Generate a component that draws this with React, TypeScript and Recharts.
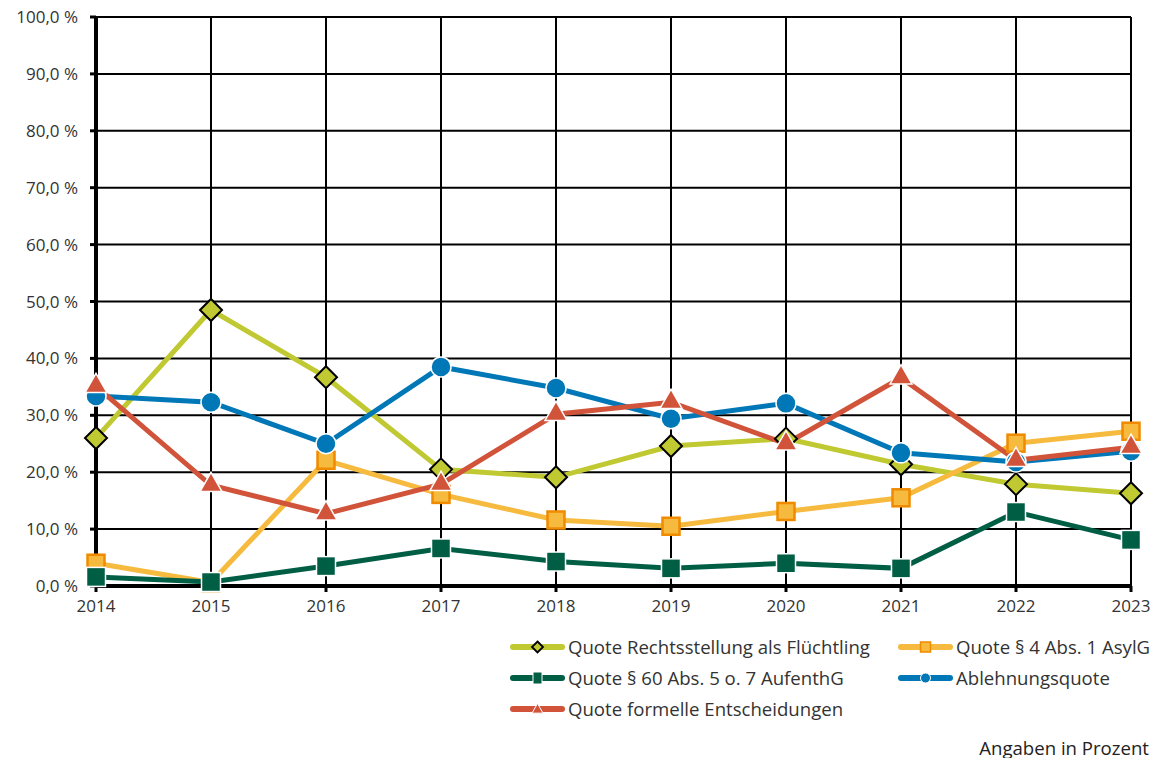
import React from 'react'
import { LineChart, Line, XAxis, YAxis, CartesianGrid } from 'recharts'

const years = ['2014', '2015', '2016', '2017', '2018', '2019', '2020', '2021', '2022', '2023']
const rechtsstellung = [26.0, 48.5, 36.7, 20.5, 19.1, 24.6, 25.9, 21.4, 17.9, 16.3]
const quote4 = [4.0, 0.6, 22.1, 16.1, 11.6, 10.5, 13.1, 15.5, 25.1, 27.2]
const quote60 = [1.6, 0.7, 3.5, 6.6, 4.3, 3.1, 4.0, 3.1, 13.0, 8.1]
const ablehnung = [33.4, 32.3, 25.0, 38.5, 34.8, 29.4, 32.1, 23.4, 21.8, 23.7]
const formelle = [35.1, 17.7, 12.7, 17.9, 30.2, 32.3, 25.0, 36.6, 22.1, 24.4]
const yTicks = [0, 10, 20, 30, 40, 50, 60, 70, 80, 90, 100]

const data = years.map((year, i) => ({
  year,
  rechtsstellung: rechtsstellung[i],
  quote4: quote4[i],
  quote60: quote60[i],
  ablehnung: ablehnung[i],
  formelle: formelle[i],
}))

const C_GREEN = '#C0C932'
const C_ORANGE = '#F6BA3E'
const C_ORANGE_EDGE = '#F08A00'
const C_DARK = '#005E45'
const C_BLUE = '#0077B6'
const C_RED = '#D0533A'
const C_TEXT = '#333'

const FONT = 'Open Sans'

function formatPercent(v: number): string {
  return `${v.toFixed(1).replace('.', ',')} %`
}

function Diamond({ cx, cy, r = 11, sw = 2 }: any) {
  return (
    <path
      d={`M${cx},${cy - r} L${cx + r},${cy} L${cx},${cy + r} L${cx - r},${cy} Z`}
      fill={C_GREEN}
      stroke="#000"
      strokeWidth={sw}
    />
  )
}

function Square({ cx, cy, w, h, fill, stroke, sw }: any) {
  return <rect x={cx - w / 2} y={cy - h / 2} width={w} height={h} fill={fill} stroke={stroke} strokeWidth={sw} />
}

function Triangle({ cx, cy, r = 11, sw = 1.5 }: any) {
  return (
    <path
      d={`M${cx},${cy - r} L${cx + r},${cy + r * 0.75} L${cx - r},${cy + r * 0.75} Z`}
      fill={C_RED}
      stroke="#fff"
      strokeWidth={sw}
    />
  )
}

const dotDiamond = (p: any) => (
  <g key={`d-${p.index}`}>
    <Diamond cx={p.cx} cy={p.cy} />
  </g>
)
const dotOrange = (p: any) => (
  <g key={`o-${p.index}`}>
    <Square cx={p.cx} cy={p.cy} w={17} h={17} fill={C_ORANGE} stroke={C_ORANGE_EDGE} sw={2.5} />
  </g>
)
const dotDark = (p: any) => (
  <g key={`g-${p.index}`}>
    <Square cx={p.cx} cy={p.cy} w={19} h={19} fill={C_DARK} stroke="#fff" sw={1.5} />
  </g>
)
const dotBlue = (p: any) => (
  <circle key={`b-${p.index}`} cx={p.cx} cy={p.cy} r={10} fill={C_BLUE} stroke="#fff" strokeWidth={1.5} />
)
const dotRed = (p: any) => (
  <g key={`r-${p.index}`}>
    <Triangle cx={p.cx} cy={p.cy - 2} />
  </g>
)

function LegendItem({ color, label, marker, x, y }: any) {
  return (
    <div style={{ position: 'absolute', left: x, top: y - 13, height: 26, display: 'flex', alignItems: 'center' }}>
      <svg width={57} height={16} style={{ marginRight: 2 }}>
        <line x1={4} y1={8} x2={53} y2={8} stroke={color} strokeWidth={6} strokeLinecap="round" />
        {marker}
      </svg>
      <span style={{ fontFamily: FONT, fontSize: 18.6, color: C_TEXT, whiteSpace: 'nowrap', lineHeight: '26px' }}>
        {label}
      </span>
    </div>
  )
}

export default function App() {
  return (
    <div
      style={{
        position: 'absolute',
        left: 0,
        top: 0,
        width: 1159,
        height: 758,
        background: '#fff',
        fontFamily: FONT,
        fontSize: 17,
      }}
    >
      <LineChart
        width={1159}
        height={758}
        data={data}
        margin={{ top: 17, right: 28, left: 0, bottom: 142 }}
      >
        <CartesianGrid stroke="#000" strokeWidth={2} />
        <XAxis
          dataKey="year"
          height={30}
          tick={{ fill: C_TEXT, fontSize: 17, fontFamily: FONT, fontWeight: 500 }}
          tickLine={{ stroke: '#000', strokeWidth: 3 }}
          tickSize={6}
          tickMargin={8}
          axisLine={{ stroke: '#000', strokeWidth: 4 }}
        />
        <YAxis
          width={96}
          domain={[0, 100]}
          ticks={yTicks}
          interval={0}
          tickFormatter={formatPercent}
          tick={{ fill: C_TEXT, fontSize: 17, fontFamily: FONT, fontWeight: 500 }}
          tickLine={{ stroke: '#000', strokeWidth: 3 }}
          tickSize={6}
          tickMargin={12}
          axisLine={{ stroke: '#000', strokeWidth: 4 }}
        />
        <Line dataKey="rechtsstellung" stroke={C_GREEN} strokeWidth={5} dot={dotDiamond} isAnimationActive={false} />
        <Line dataKey="quote4" stroke={C_ORANGE} strokeWidth={5} dot={dotOrange} isAnimationActive={false} />
        <Line dataKey="quote60" stroke={C_DARK} strokeWidth={5} dot={dotDark} isAnimationActive={false} />
        <Line dataKey="ablehnung" stroke={C_BLUE} strokeWidth={5} dot={dotBlue} isAnimationActive={false} />
        <Line dataKey="formelle" stroke={C_RED} strokeWidth={5} dot={dotRed} isAnimationActive={false} />
      </LineChart>
      <LegendItem
        x={509}
        y={647}
        color={C_GREEN}
        label="Quote Rechtsstellung als Flüchtling"
        marker={<Diamond cx={28.5} cy={8} r={5.5} sw={1.8} />}
      />
      <LegendItem
        x={897}
        y={647}
        color={C_ORANGE}
        label="Quote § 4 Abs. 1 AsylG"
        marker={<Square cx={28.5} cy={8} w={10} h={10} fill={C_ORANGE} stroke={C_ORANGE_EDGE} sw={1.5} />}
      />
      <LegendItem
        x={509}
        y={678}
        color={C_DARK}
        label="Quote § 60 Abs. 5 o. 7 AufenthG"
        marker={<Square cx={28.5} cy={8} w={9} h={12} fill={C_DARK} stroke="#fff" sw={1} />}
      />
      <LegendItem
        x={897}
        y={678}
        color={C_BLUE}
        label="Ablehnungsquote"
        marker={<circle cx={28.5} cy={8} r={5} fill={C_BLUE} stroke="#fff" strokeWidth={1} />}
      />
      <LegendItem
        x={509}
        y={709}
        color={C_RED}
        label="Quote formelle Entscheidungen"
        marker={<Triangle cx={28.5} cy={8} r={5.5} sw={1} />}
      />
      <div
        style={{
          position: 'absolute',
          right: 10,
          top: 735,
          fontFamily: FONT,
          fontSize: 18.6,
          lineHeight: '26px',
          color: '#222',
          whiteSpace: 'nowrap',
        }}
      >
        Angaben in Prozent
      </div>
    </div>
  )
}
